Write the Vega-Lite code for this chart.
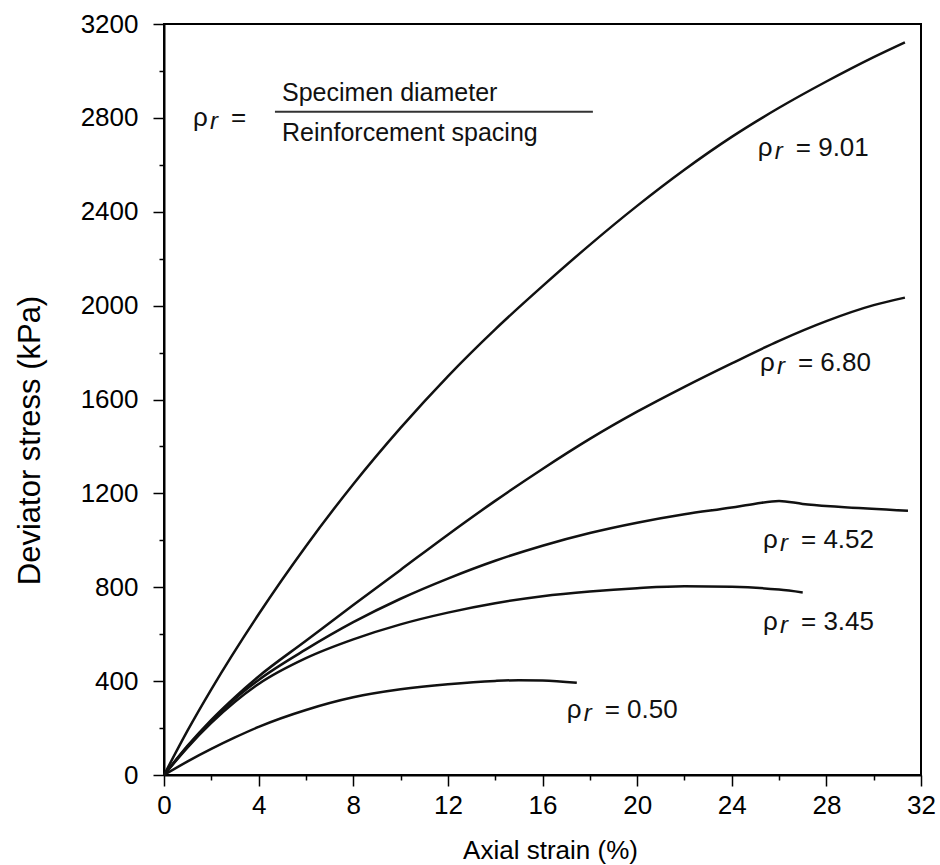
{
  "$schema": "https://vega.github.io/schema/vega-lite/v6.json",
  "autosize": "none",
  "padding": {"left": 164, "top": 24, "right": 19, "bottom": 90},
  "width": 757,
  "height": 751,
  "background": "white",
  "config": {
    "font": "Liberation Sans",
    "view": {"stroke": "black", "strokeWidth": 2},
    "axis": {
      "domainColor": "black", "domainWidth": 2, "tickColor": "black", "tickWidth": 1.5,
      "labelColor": "black", "labelFontSize": 26, "labelFont": "Liberation Sans",
      "titleColor": "black", "titleFont": "Liberation Sans", "titleFontWeight": "normal",
      "grid": false
    }
  },
  "datasets": {
    "curves": [
      {"curve": "9.01", "strain": 0, "stress": 0},
      {"curve": "9.01", "strain": 1, "stress": 190},
      {"curve": "9.01", "strain": 2, "stress": 365},
      {"curve": "9.01", "strain": 4, "stress": 685},
      {"curve": "9.01", "strain": 6, "stress": 975},
      {"curve": "9.01", "strain": 8, "stress": 1239},
      {"curve": "9.01", "strain": 10, "stress": 1479},
      {"curve": "9.01", "strain": 12, "stress": 1699},
      {"curve": "9.01", "strain": 14, "stress": 1899},
      {"curve": "9.01", "strain": 16, "stress": 2083},
      {"curve": "9.01", "strain": 18, "stress": 2259},
      {"curve": "9.01", "strain": 20, "stress": 2425},
      {"curve": "9.01", "strain": 22, "stress": 2579},
      {"curve": "9.01", "strain": 24, "stress": 2719},
      {"curve": "9.01", "strain": 26, "stress": 2843},
      {"curve": "9.01", "strain": 28, "stress": 2955},
      {"curve": "9.01", "strain": 30, "stress": 3059},
      {"curve": "9.01", "strain": 31.32, "stress": 3122},
      {"curve": "6.80", "strain": 0, "stress": 0},
      {"curve": "6.80", "strain": 1, "stress": 125},
      {"curve": "6.80", "strain": 2, "stress": 235},
      {"curve": "6.80", "strain": 3, "stress": 332},
      {"curve": "6.80", "strain": 4, "stress": 420},
      {"curve": "6.80", "strain": 6, "stress": 572},
      {"curve": "6.80", "strain": 8, "stress": 724},
      {"curve": "6.80", "strain": 10, "stress": 874},
      {"curve": "6.80", "strain": 12, "stress": 1024},
      {"curve": "6.80", "strain": 14, "stress": 1168},
      {"curve": "6.80", "strain": 16, "stress": 1304},
      {"curve": "6.80", "strain": 18, "stress": 1432},
      {"curve": "6.80", "strain": 20, "stress": 1548},
      {"curve": "6.80", "strain": 22, "stress": 1654},
      {"curve": "6.80", "strain": 24, "stress": 1754},
      {"curve": "6.80", "strain": 26, "stress": 1850},
      {"curve": "6.80", "strain": 28, "stress": 1934},
      {"curve": "6.80", "strain": 30, "stress": 2002},
      {"curve": "6.80", "strain": 31.32, "stress": 2034},
      {"curve": "4.52", "strain": 0, "stress": 0},
      {"curve": "4.52", "strain": 1, "stress": 122},
      {"curve": "4.52", "strain": 2, "stress": 230},
      {"curve": "4.52", "strain": 3, "stress": 325},
      {"curve": "4.52", "strain": 4, "stress": 405},
      {"curve": "4.52", "strain": 6, "stress": 535},
      {"curve": "4.52", "strain": 8, "stress": 651},
      {"curve": "4.52", "strain": 10, "stress": 751},
      {"curve": "4.52", "strain": 12, "stress": 837},
      {"curve": "4.52", "strain": 14, "stress": 913},
      {"curve": "4.52", "strain": 16, "stress": 977},
      {"curve": "4.52", "strain": 18, "stress": 1031},
      {"curve": "4.52", "strain": 20, "stress": 1075},
      {"curve": "4.52", "strain": 22, "stress": 1111},
      {"curve": "4.52", "strain": 24, "stress": 1140},
      {"curve": "4.52", "strain": 25, "stress": 1156},
      {"curve": "4.52", "strain": 26, "stress": 1168},
      {"curve": "4.52", "strain": 27, "stress": 1155},
      {"curve": "4.52", "strain": 28.5, "stress": 1143},
      {"curve": "4.52", "strain": 31.45, "stress": 1126},
      {"curve": "3.45", "strain": 0, "stress": 0},
      {"curve": "3.45", "strain": 1, "stress": 118},
      {"curve": "3.45", "strain": 2, "stress": 222},
      {"curve": "3.45", "strain": 3, "stress": 312},
      {"curve": "3.45", "strain": 4, "stress": 388},
      {"curve": "3.45", "strain": 6, "stress": 498},
      {"curve": "3.45", "strain": 8, "stress": 578},
      {"curve": "3.45", "strain": 10, "stress": 642},
      {"curve": "3.45", "strain": 12, "stress": 692},
      {"curve": "3.45", "strain": 14, "stress": 732},
      {"curve": "3.45", "strain": 16, "stress": 762},
      {"curve": "3.45", "strain": 18, "stress": 782},
      {"curve": "3.45", "strain": 20, "stress": 796},
      {"curve": "3.45", "strain": 22, "stress": 804},
      {"curve": "3.45", "strain": 24, "stress": 802},
      {"curve": "3.45", "strain": 26, "stress": 790},
      {"curve": "3.45", "strain": 27, "stress": 778},
      {"curve": "0.50", "strain": 0, "stress": 0},
      {"curve": "0.50", "strain": 1, "stress": 58},
      {"curve": "0.50", "strain": 2, "stress": 111},
      {"curve": "0.50", "strain": 3, "stress": 160},
      {"curve": "0.50", "strain": 4, "stress": 205},
      {"curve": "0.50", "strain": 6, "stress": 277},
      {"curve": "0.50", "strain": 8, "stress": 331},
      {"curve": "0.50", "strain": 10, "stress": 365},
      {"curve": "0.50", "strain": 12, "stress": 387},
      {"curve": "0.50", "strain": 14, "stress": 401},
      {"curve": "0.50", "strain": 15, "stress": 404},
      {"curve": "0.50", "strain": 16, "stress": 403},
      {"curve": "0.50", "strain": 17.45, "stress": 393}
    ],
    "labels": [
      {"strain": 25.1, "stress": 2672, "eq": "= 9.01"},
      {"strain": 25.19, "stress": 1756, "eq": "= 6.80"},
      {"strain": 25.32, "stress": 1001, "eq": "= 4.52"},
      {"strain": 25.32, "stress": 653, "eq": "= 3.45"},
      {"strain": 17.02, "stress": 277, "eq": "= 0.50"},
      {"strain": 1.23, "stress": 2800, "eq": "="}
    ],
    "formula": [
      {"strain": 4.99, "stress": 2906, "t": "Specimen diameter"},
      {"strain": 4.99, "stress": 2736, "t": "Reinforcement spacing"}
    ],
    "bar": [
      {"strain": 4.69, "strain2": 18.13, "stress": 2826}
    ]
  },
  "layer": [
    {
      "data": {"name": "curves"},
      "mark": {"type": "line", "interpolate": "monotone", "color": "#111111", "strokeWidth": 2.5},
      "encoding": {
        "x": {
          "field": "strain", "type": "quantitative",
          "scale": {"domain": [0, 32], "nice": false},
          "axis": {
            "values": [0, 2, 4, 6, 8, 10, 12, 14, 16, 18, 20, 22, 24, 26, 28, 30, 32],
            "labelExpr": "datum.value % 4 === 0 ? datum.label : ''",
            "tickSize": {"condition": {"test": "datum.value % 4 === 0", "value": 11}, "value": 5},
            "labelPadding": 6,
            "title": "Axial strain (%)",
            "titleFontSize": 26,
            "titleX": 386,
            "titleY": 75,
            "titleBaseline": "middle",
            "labelFlush": false
          }
        },
        "y": {
          "field": "stress", "type": "quantitative",
          "scale": {"domain": [0, 3200], "nice": false},
          "axis": {
            "values": [0, 200, 400, 600, 800, 1000, 1200, 1400, 1600, 1800, 2000, 2200, 2400, 2600, 2800, 3000, 3200],
            "labelExpr": "datum.value % 400 === 0 ? datum.value : ''",
            "tickSize": {"condition": {"test": "datum.value % 400 === 0", "value": 11}, "value": 5},
            "labelPadding": 15,
            "title": "Deviator stress (kPa)",
            "titleFontSize": 31,
            "titleX": -134,
            "titleY": 416,
            "titleBaseline": "middle",
            "labelFlush": false
          }
        },
        "detail": {"field": "curve", "type": "nominal"}
      }
    },
    {
      "data": {"name": "labels"},
      "mark": {"type": "text", "text": "ρ", "align": "left", "baseline": "middle", "fontSize": 26, "color": "#111111"},
      "encoding": {
        "x": {"field": "strain", "type": "quantitative"},
        "y": {"field": "stress", "type": "quantitative"}
      }
    },
    {
      "data": {"name": "labels"},
      "mark": {"type": "text", "text": "r", "align": "left", "baseline": "middle", "fontSize": 24, "fontStyle": "italic", "dx": 17, "dy": 4, "color": "#111111"},
      "encoding": {
        "x": {"field": "strain", "type": "quantitative"},
        "y": {"field": "stress", "type": "quantitative"}
      }
    },
    {
      "data": {"name": "labels"},
      "mark": {"type": "text", "align": "left", "baseline": "middle", "fontSize": 26, "dx": 38, "color": "#111111"},
      "encoding": {
        "x": {"field": "strain", "type": "quantitative"},
        "y": {"field": "stress", "type": "quantitative"},
        "text": {"field": "eq", "type": "nominal"}
      }
    },
    {
      "data": {"name": "formula"},
      "mark": {"type": "text", "align": "left", "baseline": "middle", "fontSize": 25, "color": "#111111"},
      "encoding": {
        "x": {"field": "strain", "type": "quantitative"},
        "y": {"field": "stress", "type": "quantitative"},
        "text": {"field": "t", "type": "nominal"}
      }
    },
    {
      "data": {"name": "bar"},
      "mark": {"type": "rule", "color": "#333333", "strokeWidth": 2},
      "encoding": {
        "x": {"field": "strain", "type": "quantitative"},
        "x2": {"field": "strain2"},
        "y": {"field": "stress", "type": "quantitative"}
      }
    }
  ]
}
